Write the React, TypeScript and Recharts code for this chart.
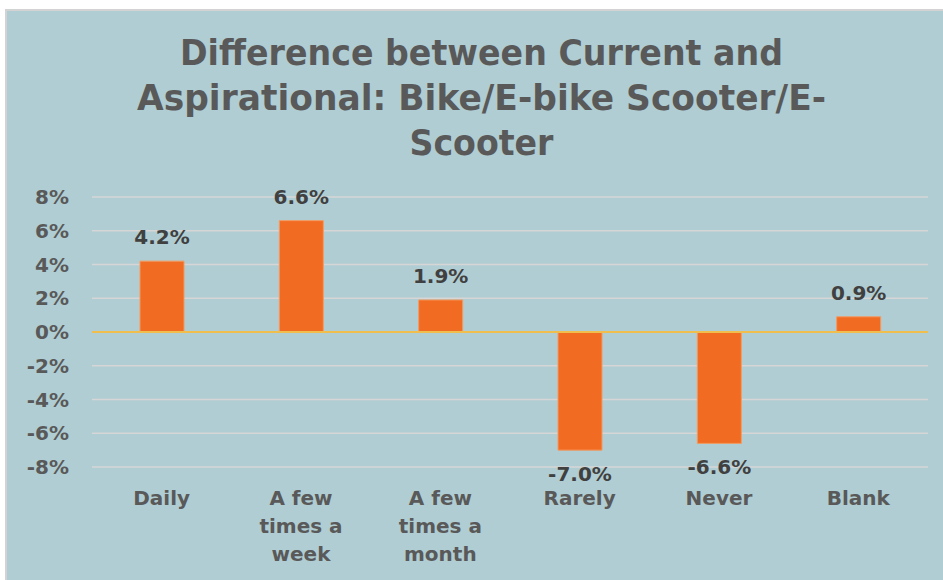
import React from 'react';
import { BarChart, Bar, XAxis, YAxis, CartesianGrid, ReferenceLine, LabelList } from 'recharts';

const categories = ['Daily', 'A few times a week', 'A few times a month', 'Rarely', 'Never', 'Blank'];
const differences = [4.2, 6.6, 1.9, -7.0, -6.6, 0.9];
const yTicks = [-8, -6, -4, -2, 0, 2, 4, 6, 8];
const titleLines = ['Difference between Current and', 'Aspirational: Bike/E-bike Scooter/E-', 'Scooter'];

const data = categories.map((c, i) => ({ category: c, value: differences[i] }));

const FONT = '"DejaVu Sans", sans-serif';
const TEXT = '#595959';
const LABEL = '#404040';
const BG = '#b0cdd3';
const BAR = '#f26b22';

const titleLayout = [
  { y: 65, len: 603 },
  { y: 110, len: 689 },
  { y: 155, len: 144 },
];

function wrap(label: string, max: number): string[] {
  const words = label.split(' ');
  const lines: string[] = [];
  let cur = '';
  for (const w of words) {
    const cand = cur ? cur + ' ' + w : w;
    if (cand.length > max && cur) {
      lines.push(cur);
      cur = w;
    } else {
      cur = cand;
    }
  }
  if (cur) lines.push(cur);
  return lines;
}

const XTick = (props: any) => {
  const { x, y, payload } = props;
  const lines = wrap(String(payload.value), 7);
  return (
    <text x={x} y={y} textAnchor="middle" fill={TEXT} fontSize={20} fontWeight={700} fontFamily={FONT}>
      {lines.map((l, i) => (
        <tspan key={i} x={x} dy={i === 0 ? 38 : 28}>
          {l}
        </tspan>
      ))}
    </text>
  );
};

const YTick = (props: any) => {
  const { x, y, payload } = props;
  return (
    <text x={x} y={y} dy="0.36em" textAnchor="end" fill={TEXT} fontSize={20} fontWeight={700} fontFamily={FONT}>
      {`${payload.value}%`}
    </text>
  );
};

const BarLabel = (props: any) => {
  const { x, y, width, height, value } = props;
  const top = Math.min(y, y + height);
  const bottom = Math.max(y, y + height);
  const v = Number(value);
  const ty = v >= 0 ? top - 17 : bottom + 31;
  return (
    <text x={x + width / 2} y={ty} textAnchor="middle" fill={LABEL} fontSize={20} fontWeight={700} fontFamily={FONT}>
      {`${v.toFixed(1)}%`}
    </text>
  );
};

export default function App() {
  return (
    <div style={{ position: 'absolute', left: 0, top: 0, width: 943, height: 580, background: '#ffffff', overflow: 'hidden' }}>
      <div
        style={{
          position: 'absolute',
          left: 5,
          top: 9,
          width: 938,
          height: 571,
          boxSizing: 'border-box',
          borderTop: '2px solid #d3d3d3',
          borderLeft: '2px solid #d3d3d3',
          background: BG,
        }}
      />
      <svg width={943} height={580} style={{ position: 'absolute', left: 0, top: 0 }}>
        {titleLines.map((t, i) => (
          <text
            key={i}
            x={481.5}
            y={titleLayout[i].y}
            textAnchor="middle"
            fill={TEXT}
            fontSize={35}
            fontWeight={700}
            fontFamily={FONT}
            textLength={titleLayout[i].len}
            lengthAdjust="spacingAndGlyphs"
          >
            {t}
          </text>
        ))}
      </svg>
      <div style={{ position: 'absolute', left: 0, top: 0 }}>
        <BarChart width={943} height={580} data={data} margin={{ top: 197, right: 15, bottom: 0, left: 0 }}>
          <CartesianGrid vertical={false} stroke="#d6d6d6" strokeWidth={1.5} />
          <XAxis
            dataKey="category"
            axisLine={false}
            tickLine={false}
            tickSize={0}
            tickMargin={0}
            height={113}
            interval={0}
            tick={<XTick />}
          />
          <YAxis
            domain={[-8, 8]}
            ticks={yTicks}
            axisLine={false}
            tickLine={false}
            tickSize={0}
            tickMargin={23}
            width={92}
            tick={<YTick />}
          />
          <ReferenceLine y={0} stroke="#f0be4c" strokeWidth={2} />
          <Bar dataKey="value" fill={BAR} stroke="#f39a5f" strokeWidth={1} barSize={44} isAnimationActive={false}>
            <LabelList dataKey="value" content={<BarLabel />} />
          </Bar>
        </BarChart>
      </div>
    </div>
  );
}
